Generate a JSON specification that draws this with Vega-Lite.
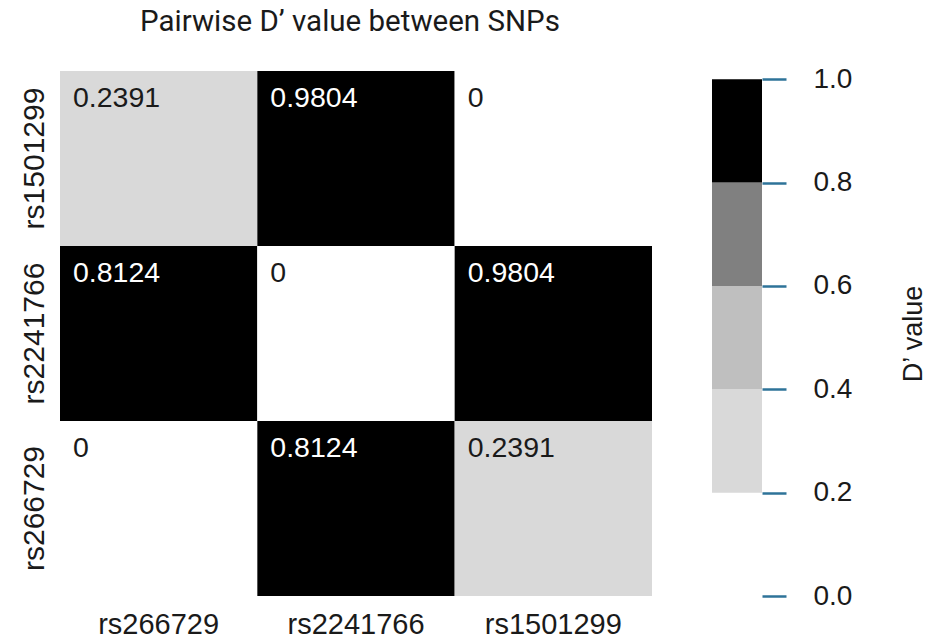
{
  "$schema": "https://vega.github.io/schema/vega-lite/v6.json",
  "background": "white",
  "padding": {"left": 18, "top": 6, "right": 5, "bottom": 5},
  "config": {"view": {"stroke": null}, "font": "Liberation Sans"},
  "title": {"text": "Pairwise D’ value between SNPs", "font": "Roboto", "fontSize": 29.5, "fontWeight": "normal", "color": "#1a1a1a", "anchor": "start", "dx": 121, "offset": 28},
  "datasets": {
    "cells": [
      {"row": "rs1501299", "col": "rs266729", "d": 0.2391},
      {"row": "rs1501299", "col": "rs2241766", "d": 0.9804},
      {"row": "rs1501299", "col": "rs1501299", "d": 0},
      {"row": "rs2241766", "col": "rs266729", "d": 0.8124},
      {"row": "rs2241766", "col": "rs2241766", "d": 0},
      {"row": "rs2241766", "col": "rs1501299", "d": 0.9804},
      {"row": "rs266729", "col": "rs266729", "d": 0},
      {"row": "rs266729", "col": "rs2241766", "d": 0.8124},
      {"row": "rs266729", "col": "rs1501299", "d": 0.2391}
    ],
    "bands": [
      {"lo": 0.2, "hi": 0.4, "d": 0.3},
      {"lo": 0.4, "hi": 0.6, "d": 0.5},
      {"lo": 0.6, "hi": 0.8, "d": 0.7},
      {"lo": 0.8, "hi": 1.0, "d": 0.9}
    ]
  },
  "spacing": 60,
  "hconcat": [
    {
      "width": 592,
      "height": 525,
      "data": {"name": "cells"},
      "layer": [
        {
          "mark": {"type": "rect"},
          "encoding": {
            "x": {"field": "col", "type": "nominal", "sort": ["rs266729", "rs2241766", "rs1501299"], "scale": {"paddingInner": 0, "paddingOuter": 0}, "axis": {"title": null, "labelAngle": 0, "ticks": false, "domain": false, "labelFontSize": 29, "labelPadding": 14, "labelColor": "#1a1a1a"}},
            "y": {"field": "row", "type": "nominal", "sort": ["rs1501299", "rs2241766", "rs266729"], "scale": {"paddingInner": 0, "paddingOuter": 0}, "axis": {"title": null, "labelAngle": 270, "ticks": false, "domain": false, "labelFontSize": 30, "labelPadding": 17, "labelAlign": "center", "labelBaseline": "alphabetic", "labelColor": "#1a1a1a"}},
            "color": {"field": "d", "type": "quantitative", "scale": {"type": "threshold", "domain": [0.2, 0.4, 0.6, 0.8], "range": ["#ffffff", "#d9d9d9", "#bfbfbf", "#808080", "#000000"]}, "legend": null}
          }
        },
        {
          "mark": {"type": "text", "align": "left", "baseline": "alphabetic", "dx": 13, "dy": 36, "fontSize": 28.5},
          "encoding": {
            "x": {"field": "col", "type": "nominal", "sort": ["rs266729", "rs2241766", "rs1501299"], "bandPosition": 0},
            "y": {"field": "row", "type": "nominal", "sort": ["rs1501299", "rs2241766", "rs266729"], "bandPosition": 0},
            "text": {"field": "d", "type": "nominal"},
            "color": {"condition": {"test": "datum.d >= 0.8", "value": "#ffffff"}, "value": "#1a1a1a"}
          }
        }
      ]
    },
    {
      "width": 50,
      "height": 525,
      "data": {"name": "bands"},
      "mark": {"type": "rect"},
      "encoding": {
        "y": {"field": "lo", "type": "quantitative", "scale": {"domain": [0, 1.016], "nice": false, "zero": false}, "axis": {"orient": "right", "values": [0, 0.2, 0.4, 0.6, 0.8, 1], "format": ".1f", "domain": false, "grid": false, "ticks": true, "tickColor": "#2e7399", "tickSize": 24, "tickWidth": 2.5, "labelPadding": 27, "labelFontSize": 28, "labelColor": "#1a1a1a", "labelBaseline": "middle", "labelFlush": false, "labelOverlap": false, "title": "D’ value", "titleFontSize": 27, "titleFontWeight": "normal", "titleAngle": 270, "titlePadding": 76, "titleColor": "#1a1a1a"}},
        "y2": {"field": "hi"},
        "color": {"field": "d", "type": "quantitative", "scale": {"type": "threshold", "domain": [0.2, 0.4, 0.6, 0.8], "range": ["#ffffff", "#d9d9d9", "#bfbfbf", "#808080", "#000000"]}, "legend": null}
      }
    }
  ]
}
